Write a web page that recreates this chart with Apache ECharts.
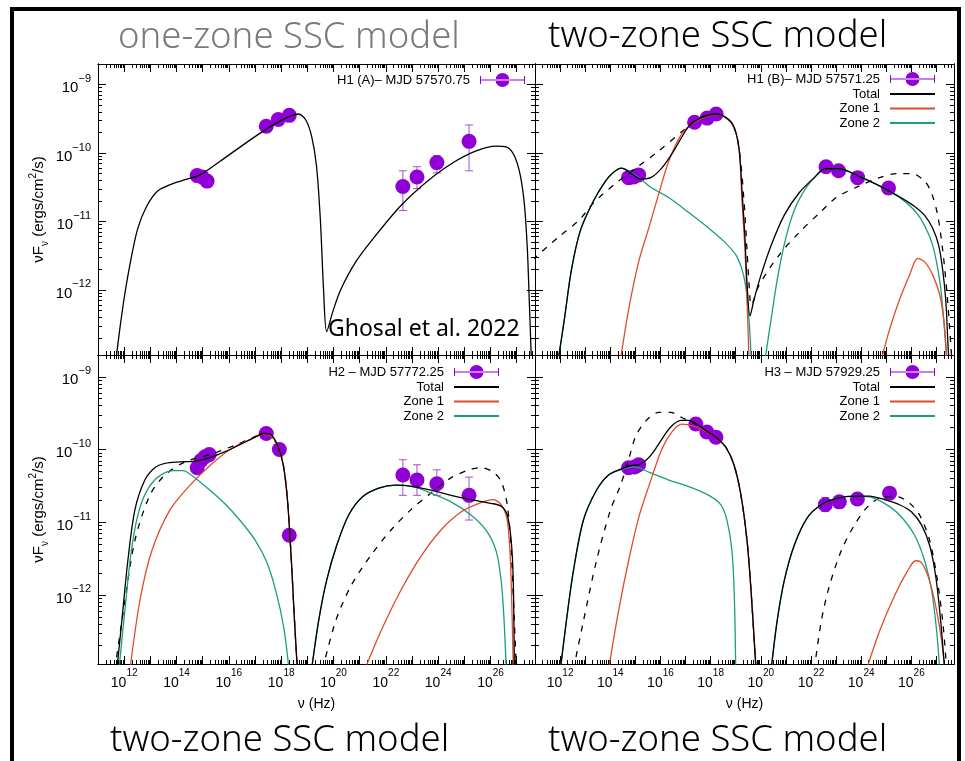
<!DOCTYPE html>
<html lang="en">
<head>
  <meta charset="UTF-8">
  <title>SED one-zone / two-zone SSC</title>
  <script src="https://cdn.jsdelivr.net/npm/echarts@6/dist/echarts.min.js"></script>
  <style>
    body { margin: 0; padding: 0; background: #fff; }
    #chart { width: 965px; height: 761px; }
  </style>
</head>
<body>
  <div id="chart"></div>
  <script>
    // all values are log10(nu / Hz), log10(nuFnu / erg cm^-2 s^-1)
    // points: [logNu, logF, logF low, logF high]

    // top left: H1 (A), one-zone fit
    var aPts = [[14.79, -10.33, -10.33, -10.33], [14.98, -10.35, -10.35, -10.35], [15.17, -10.41, -10.41, -10.41],
      [17.43, -9.61, -9.61, -9.61], [17.89, -9.51, -9.51, -9.51], [18.31, -9.45, -9.45, -9.45],
      [22.65, -10.49, -10.84, -10.26], [23.19, -10.35, -10.52, -10.20], [23.95, -10.14, -10.29, -10.04], [25.18, -9.83, -10.26, -9.59]];
    var aOne = [[11.68, -13.04], [11.83, -12.58], [12.02, -12.07], [12.25, -11.57], [12.52, -11.10], [12.87, -10.77], [13.29, -10.55],
      [13.83, -10.45], [14.33, -10.39], [14.90, -10.32], [15.67, -10.12], [16.44, -9.91], [17.20, -9.71], [17.78, -9.57], [18.35, -9.46],
      [18.66, -9.43], [18.93, -9.51], [19.16, -9.75], [19.35, -10.19], [19.50, -10.99], [19.62, -12.00], [19.74, -12.61], [19.97, -12.32],
      [20.27, -12.00], [20.85, -11.59], [21.62, -11.20], [22.57, -10.77], [23.53, -10.43], [24.49, -10.16], [25.45, -9.97], [26.22, -9.90],
      [26.60, -9.91], [26.91, -10.04], [27.14, -10.33], [27.30, -10.77], [27.41, -11.42], [27.48, -12.14], [27.56, -13.01]];

    // top right: H1 (B)
    var bPts = [[14.73, -10.36, -10.36, -10.36], [14.93, -10.35, -10.35, -10.35], [15.13, -10.32, -10.32, -10.32],
      [17.36, -9.55, -9.55, -9.55], [17.86, -9.49, -9.49, -9.49], [18.22, -9.43, -9.43, -9.43],
      [22.60, -10.20, -10.20, -10.20], [23.10, -10.26, -10.26, -10.26], [23.86, -10.36, -10.36, -10.36], [25.09, -10.51, -10.51, -10.51]];
    var bTot = [[11.93, -13.01], [12.17, -12.43], [12.45, -11.71], [12.81, -11.13], [13.33, -10.70], [13.81, -10.41], [14.13, -10.28],
      [14.45, -10.22], [14.81, -10.29], [15.21, -10.38], [15.61, -10.36], [16.05, -10.22], [16.53, -9.97], [17.13, -9.61], [17.65, -9.48],
      [18.21, -9.43], [18.65, -9.49], [18.93, -9.62], [19.13, -9.93], [19.25, -10.55], [19.37, -11.25], [19.45, -11.90], [19.57, -12.38],
      [19.73, -12.14], [20.01, -11.78], [20.41, -11.35], [20.93, -10.91], [21.53, -10.58], [22.13, -10.36], [22.57, -10.23], [23.13, -10.23],
      [23.85, -10.33], [24.73, -10.48], [25.53, -10.64], [26.13, -10.78], [26.53, -10.91], [26.85, -11.10], [27.09, -11.35], [27.25, -11.71],
      [27.37, -12.14], [27.45, -12.72], [27.49, -13.01]];
    var bZ1s = [[14.41, -13.01], [14.73, -12.29], [15.13, -11.59], [15.53, -11.10], [15.85, -10.70], [16.33, -10.12], [16.85, -9.72],
      [17.41, -9.54], [18.21, -9.43], [18.85, -9.57], [19.13, -9.93], [19.25, -10.70], [19.37, -11.42], [19.45, -12.14], [19.53, -13.01]];
    var bZ1c = [[24.81, -13.01], [25.13, -12.58], [25.53, -12.14], [25.93, -11.78], [26.25, -11.54], [26.53, -11.59], [26.85, -11.78],
      [27.13, -12.07], [27.29, -12.43], [27.41, -13.01]];
    var bZ2s = [[11.93, -13.01], [12.17, -12.43], [12.45, -11.71], [12.81, -11.13], [13.33, -10.70], [13.81, -10.41], [14.13, -10.28],
      [14.45, -10.22], [14.81, -10.28], [15.21, -10.38], [15.61, -10.50], [16.33, -10.65], [17.13, -10.87], [17.93, -11.10], [18.53, -11.29],
      [19.01, -11.49], [19.25, -11.70], [19.40, -11.95], [19.50, -12.30], [19.56, -12.60], [19.62, -13.01]];
    var bZ2c = [[20.17, -13.01], [20.41, -12.43], [20.65, -11.86], [20.97, -11.28], [21.33, -10.84], [21.73, -10.55], [22.13, -10.36],
      [22.57, -10.23], [23.13, -10.23], [23.85, -10.33], [24.73, -10.48], [25.53, -10.65], [26.13, -10.84], [26.53, -11.06], [26.85, -11.35],
      [27.13, -11.86], [27.29, -12.43], [27.41, -13.01]];
    var bOne = [[10.90, -11.56], [11.93, -11.23], [12.73, -10.99], [13.41, -10.70], [14.33, -10.41], [15.13, -10.19], [15.93, -9.97],
      [17.01, -9.64], [17.53, -9.49], [18.21, -9.43], [18.85, -9.57], [19.13, -9.93], [19.33, -10.70], [19.45, -11.42], [19.57, -12.14],
      [19.61, -12.22], [19.93, -11.93], [20.73, -11.49], [21.53, -11.16], [22.33, -10.88], [23.01, -10.65], [23.93, -10.48], [24.73, -10.36],
      [25.41, -10.30], [26.01, -10.30], [26.53, -10.41], [26.81, -10.59], [27.05, -10.91], [27.25, -11.42], [27.41, -12.00], [27.53, -12.58],
      [27.61, -13.01]];

    // bottom left: H2
    var cPts = [[14.79, -10.25, -10.25, -10.25], [14.94, -10.15, -10.15, -10.15], [15.09, -10.10, -10.10, -10.10], [15.25, -10.07, -10.07, -10.07],
      [17.43, -9.78, -9.78, -9.78], [17.93, -10.00, -10.00, -10.00], [18.31, -11.18, -11.18, -11.18],
      [22.65, -10.35, -10.63, -10.14], [23.19, -10.42, -10.63, -10.21], [23.95, -10.47, -10.63, -10.28], [25.18, -10.63, -10.97, -10.38]];
    var cTots = [[11.72, -13.03], [11.91, -12.36], [12.14, -11.53], [12.41, -10.83], [12.79, -10.42], [13.17, -10.25], [13.56, -10.19],
      [14.13, -10.17], [14.71, -10.16], [15.28, -10.11], [15.86, -10.03], [16.44, -9.93], [17.01, -9.83], [17.32, -9.78], [17.58, -9.79],
      [17.85, -9.93], [18.08, -10.21], [18.24, -10.69], [18.39, -11.53], [18.51, -12.36], [18.62, -13.03]];
    var cTotc = [[19.16, -13.03], [19.43, -12.36], [19.73, -11.81], [20.12, -11.32], [20.58, -10.90], [21.11, -10.65], [21.73, -10.53],
      [22.38, -10.49], [23.03, -10.51], [23.72, -10.56], [24.49, -10.63], [25.25, -10.69], [26.02, -10.74], [26.41, -10.78], [26.64, -10.90],
      [26.79, -11.25], [26.87, -11.81], [26.91, -13.03]];
    var cZ1s = [[12.22, -13.03], [12.60, -12.08], [13.06, -11.39], [13.75, -10.83], [14.52, -10.49], [15.28, -10.22], [16.05, -10.00],
      [16.82, -9.86], [17.28, -9.79], [17.58, -9.81], [17.85, -9.93], [18.08, -10.21], [18.24, -10.69], [18.39, -11.53], [18.51, -12.36],
      [18.62, -13.03]];
    var cZ1c = [[21.19, -13.03], [21.81, -12.50], [22.57, -11.94], [23.34, -11.47], [24.10, -11.11], [24.87, -10.86], [25.56, -10.74],
      [26.10, -10.69], [26.41, -10.76], [26.64, -10.97], [26.76, -11.53], [26.83, -12.36], [26.87, -13.03]];
    var cZ2s = [[11.80, -13.03], [12.03, -12.20], [12.29, -11.35], [12.60, -10.80], [12.98, -10.50], [13.40, -10.35], [13.90, -10.29],
      [14.25, -10.29], [14.60, -10.36], [15.28, -10.56], [15.86, -10.75], [16.44, -10.98], [17.01, -11.25], [17.45, -11.55], [17.80, -11.95],
      [18.10, -12.45], [18.30, -13.03]];
    var cZ2c = [[19.16, -13.03], [19.43, -12.36], [19.73, -11.81], [20.12, -11.32], [20.58, -10.90], [21.11, -10.65], [21.73, -10.53],
      [22.38, -10.49], [23.03, -10.51], [23.72, -10.60], [24.49, -10.72], [25.25, -10.90], [25.83, -11.11], [26.21, -11.39], [26.41, -11.81],
      [26.52, -12.36], [26.60, -13.03]];
    var cOnes = [[11.64, -13.03], [12.03, -12.08], [12.41, -11.25], [12.98, -10.63], [13.56, -10.35], [14.33, -10.17], [15.28, -10.07],
      [16.24, -9.94], [17.01, -9.82], [17.39, -9.78], [17.85, -9.93], [18.08, -10.21], [18.24, -10.69], [18.39, -11.53], [18.51, -12.36],
      [18.62, -13.03]];
    var cOnec = [[19.58, -13.03], [20.08, -12.36], [20.66, -11.88], [21.42, -11.46], [22.19, -11.11], [22.95, -10.83], [23.72, -10.60],
      [24.49, -10.39], [25.18, -10.28], [25.64, -10.25], [26.10, -10.31], [26.41, -10.44], [26.64, -10.76], [26.79, -11.39], [26.91, -12.36],
      [26.99, -13.03]];

    // bottom right: H3
    var dPts = [[14.73, -10.25, -10.25, -10.25], [14.97, -10.24, -10.24, -10.24], [15.13, -10.21, -10.21, -10.21],
      [17.41, -9.65, -9.65, -9.65], [17.85, -9.76, -9.76, -9.76], [18.21, -9.83, -9.83, -9.83],
      [22.57, -10.76, -10.85, -10.66], [23.13, -10.72, -10.80, -10.65], [23.85, -10.68, -10.68, -10.68], [25.13, -10.60, -10.60, -10.60]];
    var dTots = [[12.01, -13.03], [12.25, -12.36], [12.53, -11.67], [12.93, -10.97], [13.45, -10.56], [13.93, -10.35], [14.41, -10.27],
      [14.81, -10.22], [15.13, -10.21], [15.45, -10.14], [15.73, -10.03], [16.05, -9.86], [16.41, -9.69], [16.81, -9.60], [17.13, -9.60],
      [17.53, -9.67], [17.81, -9.74], [18.21, -9.83], [18.61, -9.97], [18.93, -10.21], [19.21, -10.63], [19.45, -11.25], [19.61, -11.94],
      [19.81, -13.03]];
    var dTotc = [[20.41, -13.03], [20.65, -12.36], [20.93, -11.81], [21.33, -11.32], [21.85, -10.94], [22.41, -10.76], [23.05, -10.67],
      [23.73, -10.64], [24.33, -10.64], [24.93, -10.69], [25.53, -10.76], [26.01, -10.86], [26.41, -11.04], [26.73, -11.32], [26.97, -11.74],
      [27.17, -12.36], [27.33, -13.03]];
    var dZ1s = [[13.93, -13.03], [14.33, -12.22], [14.73, -11.53], [15.13, -10.94], [15.53, -10.51], [16.05, -10.00], [16.45, -9.76],
      [16.85, -9.65], [17.33, -9.68], [17.81, -9.75], [18.21, -9.83], [18.61, -9.97], [18.93, -10.21], [19.21, -10.63], [19.45, -11.25],
      [19.61, -11.94], [19.81, -13.03]];
    var dZ1c = [[24.21, -13.03], [24.73, -12.50], [25.33, -12.01], [25.85, -11.67], [26.17, -11.53], [26.41, -11.56], [26.73, -11.81],
      [27.01, -12.22], [27.21, -12.64], [27.33, -13.03]];
    var dZ2s = [[12.01, -13.03], [12.25, -12.36], [12.53, -11.67], [12.93, -10.97], [13.45, -10.56], [13.93, -10.35], [14.41, -10.28],
      [14.97, -10.24], [15.53, -10.31], [16.33, -10.42], [17.13, -10.51], [17.93, -10.63], [18.41, -10.76], [18.65, -10.97], [18.85, -11.39],
      [18.95, -12.08], [19.00, -13.03]];
    var dZ2c = [[20.41, -13.03], [20.65, -12.36], [20.93, -11.81], [21.33, -11.32], [21.85, -10.94], [22.41, -10.76], [23.05, -10.67],
      [23.73, -10.64], [24.33, -10.65], [24.93, -10.74], [25.53, -10.90], [26.13, -11.18], [26.53, -11.53], [26.81, -11.94], [27.01, -12.50],
      [27.13, -13.03]];
    var dOnes = [[12.53, -13.03], [12.93, -12.36], [13.45, -11.53], [14.01, -10.83], [14.41, -10.49], [14.73, -10.14], [15.01, -9.82],
      [15.41, -9.61], [15.93, -9.49], [16.41, -9.49], [16.85, -9.56], [17.33, -9.64], [17.81, -9.74], [18.21, -9.83], [18.61, -9.97],
      [18.93, -10.21], [19.21, -10.63], [19.45, -11.25], [19.61, -11.94], [19.81, -13.03]];
    var dOnec = [[22.13, -13.03], [22.41, -12.36], [22.73, -11.88], [23.21, -11.39], [23.73, -11.04], [24.33, -10.76], [24.93, -10.65],
      [25.45, -10.65], [25.93, -10.74], [26.33, -10.90], [26.73, -11.25], [27.01, -11.74], [27.25, -12.36], [27.41, -13.03]];

    var epochs = ['H1 (A)– MJD 57570.75', 'H1 (B)– MJD 57571.25', 'H2 – MJD 57772.25', 'H3 – MJD 57929.25'];
    var xLabelVals = [12, 14, 16, 18, 20, 22, 24, 26];
    var yLabelVals = [-12, -11, -10, -9];

    var X_MIN = 11, X_MAX = 27.7, Y_MIN = -12.95, Y_MAX = -8.7;
    var FONT = 'Liberation Sans';
    var BLACK = '#000000', RED = '#e04b2c', GREEN = '#1a9e80', PURPLE = '#9000d6', BAR = '#a050d8';

    // decade and 2..9 ticks (gnuplot style log ticks)
    var xMajor = [], xMinor = [], yMajor = [], yMinor = [];
    for (var n = 11; n <= 27; n++) {
      xMajor.push(n);
      for (var k = 2; k <= 9; k++) if (n + Math.log10(k) < X_MAX) xMinor.push(n + Math.log10(k));
    }
    for (var m = -13; m <= -9; m++) {
      if (m >= Y_MIN) yMajor.push(m);
      for (var j = 2; j <= 9; j++) {
        var v = m + Math.log10(j);
        if (v > Y_MIN && v < Y_MAX) yMinor.push(v);
      }
    }

    var grids = [
      { left: 98, top: 64, width: 437, height: 291 },
      { left: 535, top: 64, width: 419, height: 291 },
      { left: 98, top: 355, width: 437, height: 309 },
      { left: 535, top: 355, width: 419, height: 309 }
    ];

    function richLabel(big, small) {
      return {
        b: { fontSize: big, fontFamily: FONT, color: BLACK, lineHeight: 22, verticalAlign: 'bottom' },
        s: { fontSize: small, fontFamily: FONT, color: BLACK, lineHeight: 12, verticalAlign: 'top' }
      };
    }

    function makeAxis(dim, gi, pos, ticks, len, withLabels) {
      var isX = dim === 'x';
      var ax = {
        type: 'value', gridIndex: gi, position: pos,
        min: isX ? X_MIN : Y_MIN, max: isX ? X_MAX : Y_MAX,
        axisLine: { show: true, onZero: false, lineStyle: { color: BLACK, width: 1 } },
        axisTick: { show: true, inside: true, length: len, customValues: ticks, lineStyle: { color: BLACK, width: 1 } },
        axisLabel: { show: false },
        splitLine: { show: false }
      };
      if (withLabels) {
        ax.axisLabel = {
          show: true, margin: isX ? 4 : 7, customValues: isX ? xLabelVals : yLabelVals,
          rich: isX ? richLabel(14, 10) : richLabel(15, 11),
          formatter: function (val) {
            return isX ? '{b|10}{s|' + Math.round(val) + '}' : '{b|10}{s|\u2212' + Math.round(-val) + '}';
          }
        };
        ax.nameLocation = 'middle';
        if (isX) {
          ax.name = 'ν (Hz)';
          ax.nameGap = 33;
          ax.nameTextStyle = { fontSize: 14, fontFamily: FONT, color: BLACK };
        } else {
          ax.name = '{a|νF}{u|ν}{a| (ergs/cm}{p|2}{a|/s)}';
          ax.nameGap = 48;
          ax.nameRotate = 90;
          ax.nameTextStyle = {
            rich: {
              a: { fontSize: 15, fontFamily: FONT, color: BLACK, lineHeight: 22, verticalAlign: 'middle' },
              u: { fontSize: 10, fontFamily: FONT, color: BLACK, lineHeight: 22, verticalAlign: 'bottom' },
              p: { fontSize: 10, fontFamily: FONT, color: BLACK, lineHeight: 10, verticalAlign: 'top' }
            }
          };
        }
      }
      return ax;
    }

    var xAxes = [], yAxes = [];
    grids.forEach(function (g, i) {
      var bottomRow = i >= 2, leftCol = i % 2 === 0;
      xAxes.push(makeAxis('x', i, 'bottom', xMajor, 8, bottomRow));
      xAxes.push(makeAxis('x', i, 'top', xMajor, 8, false));
      xAxes.push(makeAxis('x', i, 'bottom', xMinor, 4, false));
      xAxes.push(makeAxis('x', i, 'top', xMinor, 4, false));
      yAxes.push(makeAxis('y', i, 'left', yMajor, 8, leftCol));
      yAxes.push(makeAxis('y', i, 'right', yMajor, 8, false));
      yAxes.push(makeAxis('y', i, 'left', yMinor, 4, false));
      yAxes.push(makeAxis('y', i, 'right', yMinor, 4, false));
    });

    function curve(name, data, gi, color, dashed) {
      return {
        name: name, type: 'line', xAxisIndex: 4 * gi, yAxisIndex: 4 * gi, data: data,
        symbol: 'none', showSymbol: false, smooth: 0.3, clip: true, silent: true, z: 4,
        lineStyle: { color: color, width: 1.3, type: dashed ? [6, 7] : 'solid' },
        itemStyle: { color: color }
      };
    }

    function errorBars(data, gi) {
      return {
        type: 'custom', xAxisIndex: 4 * gi, yAxisIndex: 4 * gi, data: data, silent: true, z: 2,
        encode: { x: 0, y: 1 },
        renderItem: function (params, api) {
          var lo = api.coord([api.value(0), api.value(2)]);
          var hi = api.coord([api.value(0), api.value(3)]);
          var st = { stroke: BAR, lineWidth: 1 };
          return {
            type: 'group', children: [
              { type: 'line', shape: { x1: lo[0], y1: lo[1], x2: hi[0], y2: hi[1] }, style: st },
              { type: 'line', shape: { x1: lo[0] - 4, y1: lo[1], x2: lo[0] + 4, y2: lo[1] }, style: st },
              { type: 'line', shape: { x1: hi[0] - 4, y1: hi[1], x2: hi[0] + 4, y2: hi[1] }, style: st }
            ]
          };
        }
      };
    }

    function points(name, data, gi) {
      return {
        name: name, type: 'scatter', xAxisIndex: 4 * gi, yAxisIndex: 4 * gi, data: data, silent: true, z: 3,
        encode: { x: 0, y: 1 }, symbolSize: 15, itemStyle: { color: PURPLE, opacity: 1 }
      };
    }

    var series = [
      errorBars(aPts, 0), points(epochs[0], aPts, 0), curve('one-zone', aOne, 0, BLACK, false),

      errorBars(bPts, 1), points(epochs[1], bPts, 1),
      curve('one-zone', bOne, 1, BLACK, true),
      curve('Zone 2', bZ2s, 1, GREEN), curve('Zone 2', bZ2c, 1, GREEN),
      curve('Zone 1', bZ1s, 1, RED), curve('Zone 1', bZ1c, 1, RED),
      curve('Total', bTot, 1, BLACK),

      errorBars(cPts, 2), points(epochs[2], cPts, 2),
      curve('one-zone', cOnes, 2, BLACK, true), curve('one-zone', cOnec, 2, BLACK, true),
      curve('Zone 2', cZ2s, 2, GREEN), curve('Zone 2', cZ2c, 2, GREEN),
      curve('Zone 1', cZ1s, 2, RED), curve('Zone 1', cZ1c, 2, RED),
      curve('Total', cTots, 2, BLACK), curve('Total', cTotc, 2, BLACK),

      errorBars(dPts, 3), points(epochs[3], dPts, 3),
      curve('one-zone', dOnes, 3, BLACK, true), curve('one-zone', dOnec, 3, BLACK, true),
      curve('Zone 2', dZ2s, 3, GREEN), curve('Zone 2', dZ2c, 3, GREEN),
      curve('Zone 1', dZ1s, 3, RED), curve('Zone 1', dZ1c, 3, RED),
      curve('Total', dTots, 3, BLACK), curve('Total', dTotc, 3, BLACK)
    ];

    var ptIcon = 'path://M0,6.5L45,6.5L45,7.5L0,7.5Z M0,3L1,3L1,11L0,11Z M44,3L45,3L45,11L44,11Z M15.5,7A7,7,0,1,0,29.5,7A7,7,0,1,0,15.5,7Z';

    function legendAt(right, top, epoch, withZones) {
      var items = [{ name: epoch, icon: ptIcon }];
      if (withZones) {
        ['Total', 'Zone 1', 'Zone 2'].forEach(function (nm) {
          items.push({ name: nm, itemStyle: { opacity: 0, borderWidth: 0 } });
        });
      }
      return {
        data: items, orient: 'vertical', align: 'right', right: right, top: top, padding: 0,
        itemWidth: 45, itemHeight: 14, itemGap: 1.5, selectedMode: false,
        textStyle: { fontSize: 13, fontFamily: FONT, color: BLACK, padding: [0, 5, 0, 0] }
      };
    }

    var titleFont = '"Noto Sans", "DejaVu Sans", sans-serif';
    var titleStyle = function (txt, col) {
      return { text: txt, fontSize: 36.5, fontWeight: 300, fontFamily: titleFont, fill: col };
    };
    var option = {
      animation: false,
      backgroundColor: '#ffffff',
      grid: grids,
      xAxis: xAxes,
      yAxis: yAxes,
      legend: [
        legendAt(440, 73, epochs[0], false),
        legendAt(29, 72, epochs[1], true),
        legendAt(465, 365, epochs[2], true),
        legendAt(29, 365, epochs[3], true)
      ],
      series: series,
      graphic: [
        { type: 'rect', shape: { x: 12, y: 9, width: 947, height: 800 }, style: { fill: 'none', stroke: '#000', lineWidth: 4 }, silent: true },
        { type: 'text', left: 118, top: 19, style: titleStyle('one-zone SSC model', '#7a7a7a') },
        { type: 'text', left: 548, top: 18, style: titleStyle('two-zone SSC model', '#000') },
        { type: 'text', left: 110, top: 722, style: titleStyle('two-zone SSC model', '#000') },
        { type: 'text', left: 548, top: 722, style: titleStyle('two-zone SSC model', '#000') },
        { type: 'text', left: 328, top: 318, z: 10, style: { text: 'Ghosal et al. 2022', fontSize: 23, fontFamily: titleFont, fill: '#000' } }
      ]
    };

    var chart = echarts.init(document.getElementById('chart'));
    chart.setOption(option);
  </script>
</body>
</html>
